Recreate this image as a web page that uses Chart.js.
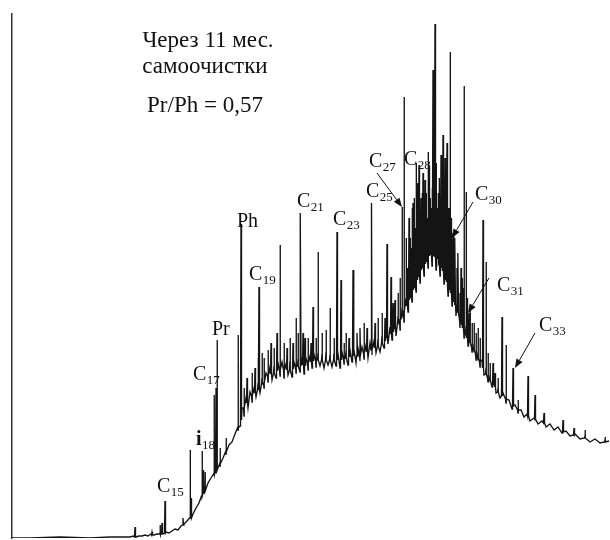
<!DOCTYPE html>
<html>
<head>
<meta charset="utf-8">
<script src="https://cdn.jsdelivr.net/npm/chart.js@4/dist/chart.umd.min.js"></script>
<style>
html,body{margin:0;padding:0;background:#fff;}
#wrap{width:610px;height:540px;}
</style>
</head>
<body>
<div id="wrap"><canvas id="c" width="610" height="540"></canvas></div>
<script>
// ---- Chromatogram baseline (retention units, signal units) ----
const retention = [12,30,60,90,110,128,
130,133,136,139,142,145,148,151,154,157,160,163,166,169,172,175,178,181,184,187,190,193,196,199,
202,205,208,211,214,217,220,223,226,229,232,235,238,
240,242,244,246,248,250,252,254,256,258,260,262,264,266,268,270,272,274,276,278,280,282,284,286,288,290,
292,294,296,298,300,302,304,306,308,310,312,314,316,318,320,322,324,326,328,330,332,334,336,338,340,
342,344,346,348,350,352,354,356,358,360,362,364,366,368,370,372,374,376,378,380,382,384,386,388,390,
392,394,396,398,400,402,404,406,408,410,412,414,416,418,420,422,424,426,428,430,432,434,436,438,440,
442,444,446,448,450,452,454,456,458,460,462,464,466,468,470,472,474,476,478,480,482,484,486,488,490,
492,494,496,498,500,503,506,509,512,515,518,521,524,527,530,534,538,542,546,550,554,558,562,566,570,
575,580,585,590,595,600,605,609];
const signal = [0,0,1,0,1,1,
1,2,1,2,2,3,2,4,3,4,5,4,6,5,7,9,8,12,14,17,20,24,30,35,
42,47,55,60,65,70,72,80,84,93,96,104,108,
112,130,122,140,130,146,136,150,141,155,145,160,150,165,156,171,158,172,160,175,162,176,160,174,163,177,
161,176,165,179,166,178,164,180,168,182,170,184,171,185,172,184,170,186,173,183,171,185,172,184,170,
186,174,187,173,188,176,189,175,190,177,191,179,193,180,195,183,197,185,199,186,202,190,206,194,211,
198,215,202,222,208,230,216,240,226,250,236,262,246,272,255,282,262,290,270,294,272,292,268,288,262,
282,254,272,242,260,232,248,222,234,210,222,200,212,192,202,186,194,178,186,171,178,163,170,156,163,
151,156,145,150,140,145,135,138,129,133,125,128,121,124,117,120,114,117,111,114,108,111,105,107,102,
104,99,102,96,99,95,98,97];

// ---- Resolved peaks: position, foot level, apex ----
const peakRt   = [135,152,160,162,165,183,190,191,202,203.5,205,214,216,217,220,226,238,241,244,252,
258,259,262,268,277,280,284,290,296,298,300.5,303,308,313,318,322,326,330,337,341,346,353,360,364,
371.5,378,387,391,395,402,404,407,410,412,414,416,418,419,421,422,424,425,427,428,430,432,433,435,
437,438.5,441,443,445,447,449,450,452,454,457,460,462,464,466,469,472,476,483,486,490,495,502,506,
513,518,528,535,544,563,574,585,605];
const peakBase = [1,3,4,4,5,13,20,20,42,45,47,64,66,68,74,86,110,118,130,142,
148,148,154,162,167,168,168,168,171,172,172,173,175,177,178,178,178,178,178,178,180,182,183,185,
188,192,200,204,209,222,226,232,240,245,250,256,261,263,268,270,272,274,278,280,283,283,283,281,
279,277,272,267,262,256,250,248,242,236,228,218,213,208,204,197,191,184,170,164,158,151,142,139,
132,128,122,119,115,106,103,100,96];
const peakTop  = [11,6,13,15,37,20,88,40,87,68,66,143,150,198,90,100,203,314,150,165,
180,251,185,188,205,293,195,200,220,205,325,205,200,231,286,205,208,230,306,258,205,268,210,215,
335,220,294,261,238,331,441,270,300,330,340,375,340,373,340,345,330,358,320,386,340,350,468,514,
330,345,383,403,380,395,330,486,298,280,270,245,260,452,346,225,215,205,318,276,175,165,221,193,
170,138,162,143,125,118,110,108,101];

// ---- Minor unresolved peaks (hump and baseline band) ----
const minorRt   = [247,255,264,271,274,287,293,305,311,316,334,344,349,357,367,375,382,385,393,398,400,
406,409,411,413,415,417,420,423,426,429,431,434,436,439,440,442,444,446,448,451,453,455,458,461,463,
467,470,474,478,480,488,493,498];
const minorBase = [135,145,155,164,165,168,169,172,176,178,178,179,181,182,186,190,195,197,206,215,218,
236,238,242,248,252,258,264,270,276,282,283,282,280,275,274,270,264,258,252,245,240,233,225,215,210,
200,195,188,180,176,160,153,146];
const minorTop  = [160,170,180,195,190,190,195,200,195,200,200,195,200,205,210,215,225,220,235,245,260,
300,320,290,335,310,355,320,365,345,370,330,360,375,360,340,370,345,360,330,320,305,300,285,270,250,
240,230,215,210,200,185,175,160];

// ---- Text ----
const titleLines = ['Через 11 мес.', 'самоочистки', 'Pr/Ph = 0,57'];
const labelMain = ['C','i','C','Pr','Ph','C','C','C','C','C','C','C','C','C'];
const labelSub  = ['15','18','17','','','19','21','23','25','27','28','30','31','33'];

// ---- placement of the text & arrows (data coordinates) ----
const titlePos = [[208,491],[205,465],[205,426]];
const labelPos = [[157,46],[196,93],[193,158],[212,203],[237,311],[249,258],[297,331],[333,313],
                  [366,341],[369,371],[404,373],[475,338],[497,247],[539,207]];
const arrowPos = [[[377,365],[402,331]],[[473,336],[452,300]],[[489,260],[468,225]],[[535,205],[515,170]]];

// Build trace from baseline + peaks
const pts = [];
for (let i = 0; i < retention.length; i++) pts.push({x: retention[i], y: signal[i]});
function addPeaks(rt, base, top) {
  for (let i = 0; i < rt.length; i++) {
    pts.push({x: rt[i] - 0.5, y: base[i]});
    pts.push({x: rt[i], y: top[i]});
    pts.push({x: rt[i] + 0.5, y: base[i]});
  }
}
addPeaks(peakRt, peakBase, peakTop);
addPeaks(minorRt, minorBase, minorTop);
pts.sort((a, b) => a.x - b.x);

const SERIF = '"Liberation Serif", "Times New Roman", "DejaVu Serif", serif';

const annot = {
  id: 'annot',
  afterDatasetsDraw(chart) {
    const {ctx, scales: {x, y}} = chart;
    ctx.save();
    ctx.fillStyle = '#111';
    ctx.strokeStyle = '#111';
    ctx.textBaseline = 'alphabetic';
    ctx.font = '23px ' + SERIF;
    ctx.textAlign = 'center';
    titleLines.forEach((t, i) => {
      ctx.fillText(t, x.getPixelForValue(titlePos[i][0]), y.getPixelForValue(titlePos[i][1]));
    });
    ctx.textAlign = 'left';
    labelMain.forEach((t, i) => {
      const px = x.getPixelForValue(labelPos[i][0]);
      const py = y.getPixelForValue(labelPos[i][1]);
      ctx.font = (t === 'i' ? 'bold ' : '') + '20px ' + SERIF;
      ctx.fillText(t, px, py);
      const w = ctx.measureText(t).width;
      if (labelSub[i]) {
        ctx.font = '13px ' + SERIF;
        ctx.fillText(labelSub[i], px + w + 0.5, py + 4);
      }
    });
    ctx.lineWidth = 1;
    arrowPos.forEach(a => {
      const x1 = x.getPixelForValue(a[0][0]), y1 = y.getPixelForValue(a[0][1]);
      const x2 = x.getPixelForValue(a[1][0]), y2 = y.getPixelForValue(a[1][1]);
      const ang = Math.atan2(y2 - y1, x2 - x1);
      const L = 9, W = 3.5;
      const bx = x2 - L * Math.cos(ang), by = y2 - L * Math.sin(ang);
      ctx.beginPath();
      ctx.moveTo(x1, y1);
      ctx.lineTo(bx, by);
      ctx.stroke();
      ctx.beginPath();
      ctx.moveTo(x2, y2);
      ctx.lineTo(bx + W * Math.sin(ang), by - W * Math.cos(ang));
      ctx.lineTo(bx - W * Math.sin(ang), by + W * Math.cos(ang));
      ctx.closePath();
      ctx.fill();
    });
    ctx.restore();
  }
};

new Chart(document.getElementById('c'), {
  type: 'line',
  data: {
    datasets: [{
      data: pts,
      borderColor: '#141414',
      borderWidth: 1.35,
      pointRadius: 0,
      tension: 0,
      fill: false
    }]
  },
  options: {
    responsive: false,
    animation: false,
    layout: {padding: {left: 12, right: 0, top: 14, bottom: 2}},
    plugins: {legend: {display: false}, tooltip: {enabled: false}},
    scales: {
      x: {type: 'linear', min: 12, max: 610, display: false},
      y: {
        type: 'linear', min: 0, max: 524,
        display: true,
        ticks: {display: false},
        grid: {display: false, drawTicks: false},
        border: {display: true, color: '#333', width: 1.5}
      }
    }
  },
  plugins: [annot]
});
</script>
</body>
</html>
